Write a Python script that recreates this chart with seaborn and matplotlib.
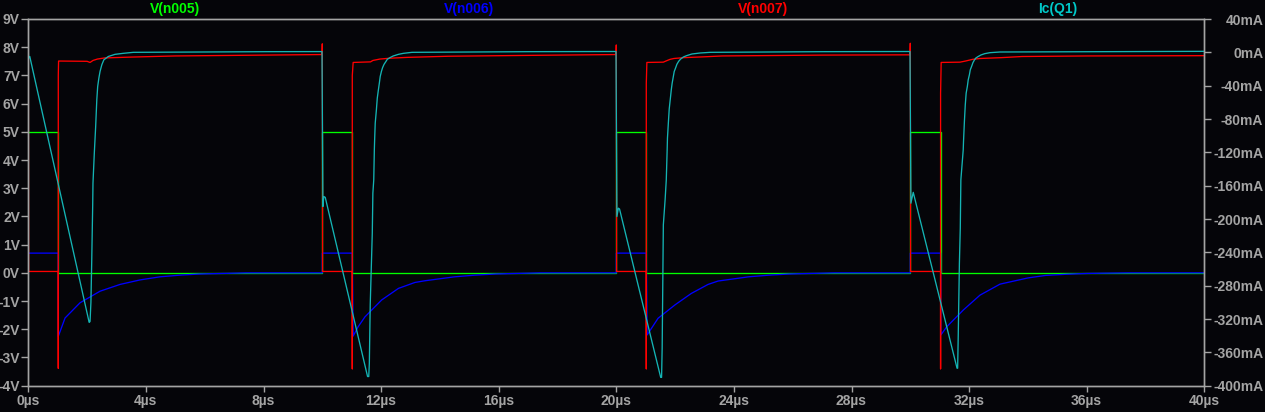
import matplotlib
matplotlib.use("Agg")
import matplotlib.pyplot as plt
import seaborn as sns
import pandas as pd

# ---------------- data ----------------
# V(n005) – green, volts
t_n005 = [0, 1.02, 1.02, 10.0, 10.0, 11.02, 11.02, 20.0, 20.0, 21.02, 21.02, 30.0, 30.0, 31.03, 31.03, 40]
v_n005 = [5, 5, 0, 0, 5, 5, 0, 0, 5, 5, 0, 0, 5, 5, 0, 0]

# V(n006) – blue, volts
t_n006 = [0, 1.02, 1.02, 1.25, 1.76, 2.44, 3.12, 3.8, 4.48, 5.16, 5.84, 6.6, 7.4, 10.0,
          10.0, 11.02, 11.05, 11.22, 11.45, 12.02, 12.59, 13.15, 13.49, 14.5, 15.2, 15.9, 16.6, 17.4, 20.0,
          20.0, 21.02, 21.05, 21.42, 21.99, 22.55, 23.12, 23.46, 24.5, 25.2, 25.9, 26.6, 27.4, 30.0,
          30.0, 31.03, 31.04, 31.24, 31.80, 32.37, 33.05, 34.0, 34.6, 35.3, 36.0, 36.6, 37.4, 40.0]
v_n006 = [0.7, 0.7, -2.25, -1.6, -1.06, -0.65, -0.41, -0.25, -0.14, -0.08, -0.04, -0.02, 0.0, 0.0,
          0.7, 0.7, -2.24, -1.91, -1.56, -0.96, -0.55, -0.34, -0.28, -0.14, -0.08, -0.04, -0.02, 0.0, 0.0,
          0.7, 0.7, -2.2, -1.61, -1.14, -0.73, -0.41, -0.29, -0.14, -0.08, -0.04, -0.02, 0.0, 0.0,
          0.7, 0.7, -2.2, -1.91, -1.32, -0.79, -0.40, -0.18, -0.09, -0.05, -0.02, -0.01, 0.0, 0.0]

# V(n007) – red, volts
t_n007 = [0, 0.01, 1.02, 1.02, 1.02, 1.03, 2.0, 2.1, 2.2, 2.35, 2.6, 3.5, 5.0, 9.0, 9.99,
          10.0, 10.01, 11.02, 11.02, 11.02, 11.05, 11.64, 11.72, 11.96, 12.3, 12.9, 14.3, 17.0, 19.0, 19.99,
          20.0, 20.01, 21.02, 21.02, 21.02, 21.04, 21.6, 21.71, 21.83, 21.96, 22.3, 23.0, 23.6, 27.0, 29.99,
          30.0, 30.01, 31.03, 31.03, 31.03, 31.05, 31.69, 31.88, 32.12, 32.37, 33.1, 33.8, 36.0, 40.0]
v_n007 = [8.53, 0.05, 0.05, -3.38, 7.0, 7.51, 7.50, 7.46, 7.53, 7.58, 7.62, 7.65, 7.69, 7.73, 7.74,
          8.12, 0.05, 0.05, -3.40, 7.0, 7.46, 7.48, 7.53, 7.58, 7.61, 7.64, 7.68, 7.71, 7.73, 7.74,
          8.08, 0.05, 0.05, -3.40, 6.72, 7.46, 7.47, 7.52, 7.57, 7.60, 7.63, 7.66, 7.69, 7.72, 7.73,
          8.14, 0.05, 0.05, -3.40, 6.37, 7.46, 7.47, 7.51, 7.57, 7.60, 7.63, 7.67, 7.69, 7.70]

# Ic(Q1) – cyan, milliamps (right axis)
t_ic = [0, 0.01, 0.05, 2.07, 2.10, 2.13, 2.156, 2.19, 2.20, 2.245, 2.29, 2.33, 2.36, 2.40, 2.44, 2.50, 2.57,
        2.72, 2.95, 3.23, 3.57, 8.1, 9.99,
        10.02, 10.05, 10.10, 11.54, 11.58, 11.60, 11.63, 11.70, 11.72, 11.75, 11.77, 11.78, 11.80, 11.84,
        11.87, 11.90, 11.94, 11.97, 12.01, 12.05, 12.10, 12.16, 12.21, 12.30, 12.41, 12.59, 12.76, 13.05,
        17.0, 19.99,
        20.02, 20.07, 20.11, 21.51, 21.54, 21.56, 21.60, 21.66, 21.70, 21.73, 21.74, 21.77, 21.80, 21.84,
        21.87, 21.90, 21.94, 21.97, 22.02, 22.06, 22.12, 22.19, 22.28, 22.39, 22.57, 22.85, 23.19,
        27.0, 29.99,
        30.02, 30.10, 31.59, 31.61, 31.63, 31.67, 31.70, 31.72, 31.76, 31.80, 31.81, 31.84, 31.87, 31.90,
        31.94, 31.97, 32.01, 32.04, 32.09, 32.13, 32.18, 32.23, 32.30, 32.40, 32.53, 32.71, 33.05, 40.0]
i_ic = [1.0, -7, -5, -324, -323, -300, -253, -184, -157, -121, -90, -57, -41, -31, -23, -15, -9,
        -5, -2.4, -1.2, 0, 0.8, 0.9,
        -185, -173, -174, -389, -389, -373, -303, -217, -169, -153, -117, -105, -85, -69,
        -55, -47, -37, -29, -23, -18.4, -14.4, -11.2, -8.4, -6.4, -4.4, -2.4, -1.2, 0,
        0.8, 1.0,
        -197, -187, -188, -390, -390, -355, -207, -177, -153, -117, -103, -85, -68, -55,
        -45, -37, -29, -23, -18.4, -14.4, -10.8, -8, -5.6, -4, -2, -0.8, 0,
        0.8, 1.0,
        -181, -168, -379, -379, -341, -253, -211, -153, -135, -117, -107, -83, -63, -49,
        -41, -33, -27, -21, -16.4, -12.4, -9.2, -6.8, -5.2, -3.2, -1.6, -0.4, 0.4, 1.2]

x_ticks = [0, 4, 8, 12, 16, 20, 24, 28, 32, 36, 40]
x_labels = ["0µs", "4µs", "8µs", "12µs", "16µs", "20µs", "24µs", "28µs", "32µs", "36µs", "40µs"]
yl_ticks = [-4, -3, -2, -1, 0, 1, 2, 3, 4, 5, 6, 7, 8, 9]
yl_labels = ["-4V", "-3V", "-2V", "-1V", "0V", "1V", "2V", "3V", "4V", "5V", "6V", "7V", "8V", "9V"]
yr_ticks = [-400, -360, -320, -280, -240, -200, -160, -120, -80, -40, 0, 40]
yr_labels = ["-400mA", "-360mA", "-320mA", "-280mA", "-240mA", "-200mA", "-160mA",
             "-120mA", "-80mA", "-40mA", "0mA", "40mA"]
trace_names = ["V(n005)", "V(n006)", "V(n007)", "Ic(Q1)"]

# ---------------- style ----------------
BG = "#050509"
GRAY = "#A4A4A4"
C_GREEN = "#00FF00"
C_BLUE = "#0000FF"
C_RED = "#FF0000"
C_CYAN = "#14B4B4"
C_CYAN_TXT = "#00C8C8"

sns.set_style("dark")
plt.rcParams["font.family"] = ["Liberation Sans", "DejaVu Sans"]

W, H = 1265, 412
L, R, T, B = 28.3, 1204.3, 19.0, 385.7
fig = plt.figure(figsize=(W / 100, H / 100), dpi=100, facecolor=BG)
ax = fig.add_axes([L / W, 1 - B / H, (R - L) / W, (B - T) / H])
ax.set_facecolor(BG)
ax2 = ax.twinx()
ax2.patch.set_visible(False)

kw = dict(estimator=None, sort=False, linewidth=0.95)
sns.lineplot(data=pd.DataFrame({"t": t_n005, "v": v_n005}), x="t", y="v", ax=ax,
             color=C_GREEN, **kw)
sns.lineplot(data=pd.DataFrame({"t": t_n006, "v": v_n006}), x="t", y="v", ax=ax,
             color=C_BLUE, **kw)
sns.lineplot(data=pd.DataFrame({"t": t_n007, "v": v_n007}), x="t", y="v", ax=ax,
             color=C_RED, **kw)
sns.lineplot(data=pd.DataFrame({"t": t_ic, "i": i_ic}), x="t", y="i", ax=ax2,
             color=C_CYAN, **kw)

ax.set_xlim(0, 40)
ax.set_ylim(-4, 9)
ax2.set_ylim(-400, 40)
ax.grid(False)
ax2.grid(False)
for a in (ax, ax2):
    a.set_xlabel("")
    a.set_ylabel("")
    for s in a.spines.values():
        s.set_color(GRAY)
        s.set_linewidth(1.0)
        s.set_visible(True)

fs = 10
ax.set_xticks(x_ticks)
ax.set_xticklabels(x_labels, fontsize=fs, fontweight="bold", color=GRAY)
ax.set_yticks(yl_ticks)
ax.set_yticklabels(yl_labels, fontsize=fs, fontweight="bold", color=GRAY)
ax2.set_yticks(yr_ticks)
ax2.set_yticklabels(yr_labels, fontsize=fs, fontweight="bold", color=GRAY, ha="right")

ax.tick_params(axis="x", direction="out", length=4, width=1, color=GRAY, pad=2, bottom=True)
ax.tick_params(axis="y", direction="out", length=5, width=1, color=GRAY, pad=1, left=True)
ax2.tick_params(axis="y", direction="out", length=5, width=1, color=GRAY, pad=37.5, right=True)

# trace names along the top strip
cols = [C_GREEN, C_BLUE, C_RED, C_CYAN_TXT]
for k, (name, c) in enumerate(zip(trace_names, cols)):
    xc = L + (R - L) * (k + 0.5) / 4
    fig.text(xc / W, 1 - 9.5 / H, name, color=c, fontsize=fs, fontweight="bold",
             ha="center", va="center")

fig.savefig("out.png", dpi=100, facecolor=BG)
